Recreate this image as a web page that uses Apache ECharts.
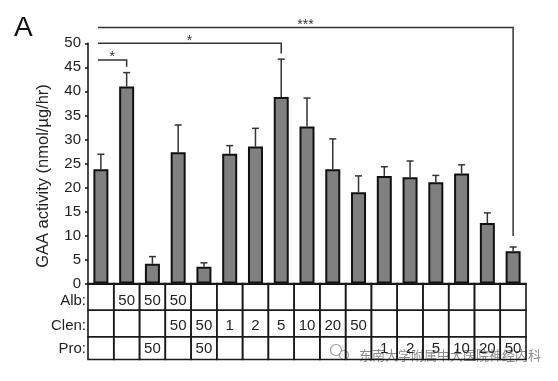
<!DOCTYPE html>
<html><head><meta charset="utf-8">
<script src="https://cdn.jsdelivr.net/npm/echarts@6/dist/echarts.min.js"></script>
<style>html,body{margin:0;padding:0;background:#fff}#c{width:558px;height:381px}</style>
</head><body><div id="c"></div>
<script>
// ---- data ----
const categories = ['Ctrl','Alb50','Alb50+Pro50','Alb50+Clen50','Clen50+Pro50','Clen1','Clen2','Clen5','Clen10','Clen20','Clen50','Pro1','Pro2','Pro5','Pro10','Pro20','Pro50'];
const gaaMean = [23.8, 41.0, 4.1, 27.3, 3.5, 27.0, 28.5, 38.8, 32.7, 23.8, 19.0, 22.4, 22.1, 21.1, 22.9, 12.6, 6.7];
const gaaErr  = [3.1, 2.9, 1.5, 5.7, 0.8, 1.7, 3.8, 7.9, 5.9, 6.3, 3.4, 1.9, 3.4, 1.4, 1.8, 2.1, 0.9];
const albRow  = ['', '50', '50', '50', '', '', '', '', '', '', '', '', '', '', '', '', ''];
const clenRow = ['', '', '', '50', '50', '1', '2', '5', '10', '20', '50', '', '', '', '', '', ''];
const proRow  = ['', '', '50', '', '50', '', '', '', '', '', '', '1', '2', '5', '10', '20', '50'];
const rowLabels = ['Alb:', 'Clen:', 'Pro:'];
const yMin = 0, yMax = 50, yInterval = 5;
// significance brackets (category index from/to, bracket level, drop end level, label)
const sigFrom  = [0, 0, 0];
const sigTo    = [1, 7, 16];
const sigLevel = [46.5, 50.0, 53.3];
const sigEnd   = [45.1, 47.9, 9.9];
const sigText  = ['*', '*', '***'];
const axisTitle = 'GAA activity (nmol/µg/hr)';
const panelLabel = 'A';
const watermark = '东南大学附属中大医院神经内科';

// ---- chart ----
const FONT = 'Liberation Sans, Arial, sans-serif';
const chart = echarts.init(document.getElementById('c'), null, {renderer: 'canvas'});
const tableRows = [albRow, clenRow, proRow];
const rowH = [26.7, 26.6, 22.7];
const rowTextOff = [17.5, 42, 65.5];

const option = {
  animation: false,
  backgroundColor: '#fff',
  grid: {left: 88, right: 32, top: 43.3, bottom: 97.5, containLabel: false},
  xAxis: {
    type: 'category', data: categories,
    axisLine: {show: true, lineStyle: {color: '#111', width: 2}},
    axisTick: {show: false}, axisLabel: {show: false}, splitLine: {show: false}
  },
  yAxis: {
    type: 'value', min: yMin, max: yMax, interval: yInterval,
    axisLine: {show: true, lineStyle: {color: '#111', width: 1.5}},
    axisTick: {show: true, length: 3, lineStyle: {color: '#111', width: 1.5}},
    axisLabel: {color: '#222', fontSize: 15, fontFamily: FONT, margin: 7},
    splitLine: {show: false}
  },
  series: [
    {
      type: 'bar', data: gaaMean, barWidth: 15,
      itemStyle: {color: '#808080', borderColor: '#111', borderWidth: 2}
    },
    {
      type: 'custom', clip: false, z: 5,
      data: gaaMean.map((m, i) => [i, m, m + gaaErr[i]]),
      renderItem: function (params, api) {
        const a = api.coord([api.value(0), api.value(1)]);
        const b = api.coord([api.value(0), api.value(2)]);
        const cw = 3.5;
        return {type: 'group', children: [
          {type: 'line', shape: {x1: a[0], y1: a[1], x2: b[0], y2: b[1]}, style: {stroke: '#333', lineWidth: 1.5}},
          {type: 'line', shape: {x1: b[0] - cw, y1: b[1], x2: b[0] + cw, y2: b[1]}, style: {stroke: '#333', lineWidth: 1.5}}
        ]};
      }
    },
    {
      type: 'custom', clip: false, z: 6,
      data: sigFrom.map((f, i) => [f, sigTo[i], sigLevel[i], sigEnd[i], i]),
      renderItem: function (params, api) {
        const i = api.value(4);
        const p1 = api.coord([api.value(0), api.value(2)]);
        const p2 = api.coord([api.value(1), api.value(2)]);
        const p3 = api.coord([api.value(1), api.value(3)]);
        const x1 = p1[0] - 3;
        return {type: 'group', children: [
          {type: 'polyline', shape: {points: [[x1, p1[1]], [p2[0], p2[1]], [p3[0], p3[1]]]}, style: {stroke: '#333', lineWidth: 1.5, fill: null}},
          {type: 'text', x: (x1 + p2[0]) / 2, y: p1[1] - 2.5, style: {text: sigText[i], fontSize: 14, fontFamily: FONT, fill: '#333', align: 'center', verticalAlign: 'middle'}}
        ]};
      }
    },
    {
      type: 'custom', clip: false, z: 4,
      data: categories.map((c, i) => [i, 0]),
      renderItem: function (params, api) {
        const idx = api.value(0);
        const c = api.coord([idx, 0]);
        const bw = api.size([1, 0])[0];
        const x0 = c[0] - bw / 2;
        const children = [];
        let y = c[1];
        for (let r = 0; r < 3; r++) {
          children.push({type: 'rect', shape: {x: x0, y: y, width: bw, height: rowH[r]}, style: {stroke: '#1a1a1a', lineWidth: 1.6, fill: null}});
          const t = tableRows[r][idx];
          if (t) children.push({type: 'text', x: c[0], y: c[1] + rowTextOff[r], style: {text: t, fontSize: 15, fontFamily: FONT, fill: '#222', align: 'center', verticalAlign: 'middle'}});
          y += rowH[r];
        }
        return {type: 'group', children: children};
      }
    }
  ],
  graphic: [
    {type: 'text', left: 14, top: 14, style: {text: panelLabel, fontSize: 28, fontFamily: FONT, fill: '#111'}},
    {type: 'text', x: 43, y: 176, rotation: Math.PI / 2, style: {text: axisTitle, fontSize: 16.5, fontFamily: FONT, fill: '#222', align: 'center', verticalAlign: 'middle'}},
    {type: 'text', x: 86, y: 301, style: {text: rowLabels[0], fontSize: 15, fontFamily: FONT, fill: '#222', align: 'right', verticalAlign: 'middle'}},
    {type: 'text', x: 86, y: 326, style: {text: rowLabels[1], fontSize: 15, fontFamily: FONT, fill: '#222', align: 'right', verticalAlign: 'middle'}},
    {type: 'text', x: 86, y: 349, style: {text: rowLabels[2], fontSize: 15, fontFamily: FONT, fill: '#222', align: 'right', verticalAlign: 'middle'}},
    {type: 'group', z: 100, children: [
      {type: 'circle', shape: {cx: 336, cy: 350, r: 5.5}, style: {stroke: '#999', lineWidth: 1.2, fill: 'rgba(255,255,255,0.6)'}},
      {type: 'circle', shape: {cx: 344, cy: 355, r: 4.5}, style: {stroke: '#999', lineWidth: 1.2, fill: 'rgba(255,255,255,0.6)'}},
      {type: 'text', x: 359, y: 355, style: {text: watermark, fontSize: 13, fontFamily: 'Noto Sans CJK SC, sans-serif', fill: 'rgba(120,120,120,0.85)', stroke: 'rgba(255,255,255,0.8)', lineWidth: 2, align: 'left', verticalAlign: 'middle'}}
    ]}
  ]
};
chart.setOption(option);
</script>
</body></html>
